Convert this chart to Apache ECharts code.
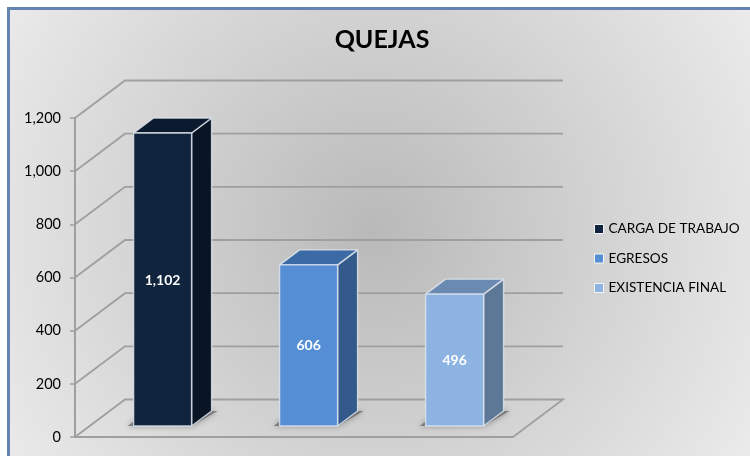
<!DOCTYPE html>
<html><head><meta charset="utf-8">
<style>html,body{margin:0;padding:0;background:#fff}#c{width:750px;height:456px}</style>
<script src="https://cdn.jsdelivr.net/npm/echarts@6/dist/echarts.min.js"></script>
</head><body><div id="c"></div>
<script>
const titleText = "QUEJAS";
const categories = ["CARGA DE TRABAJO", "EGRESOS", "EXISTENCIA FINAL"];
const values = [1102, 606, 496];
const yTicks = [0, 200, 400, 600, 800, 1000, 1200];
const frontColors = ["#10243e", "#558ed5", "#8db3e2"];
const topColors = ["#0b1a2e", "#3c6aa4", "#6b8ab2"];
const sideColors = ["#091525", "#345a8c", "#5c7896"];

const WALL_DX = 50, WALL_DY = -37.5;     // depth of the 3D box
const BAR_DX = 14.6, BAR_DY = -11;       // bar front inset from the floor edge
const DEPTH_DX = 20, DEPTH_DY = -15;     // bar's own depth
const BAR_W = 58;

function renderWall(params, api) {
  const v = api.value(1);
  const band = api.size([1, 0])[0];
  const l = api.coord([0, v]);
  const r = api.coord([categories.length - 1, v]);
  const x0 = l[0] - band / 2, x1 = r[0] + band / 2, y = l[1];
  const pts = [[x0, y], [x0 + WALL_DX, y + WALL_DY], [x1 + WALL_DX, y + WALL_DY]];
  if (v === 0) pts.push([x1, y]);
  return {
    type: "polyline",
    shape: { points: pts },
    style: { stroke: "#9f9f9f", lineWidth: 1.8, fill: null }
  };
}

function renderBar(params, api) {
  const i = api.value(0), v = api.value(1);
  const idx = categories.indexOf(params.seriesName);
  const top = api.coord([i, v]), base = api.coord([i, 0]);
  const cx = top[0] + BAR_DX;
  const x0 = cx - BAR_W / 2, x1 = cx + BAR_W / 2;
  const yT = top[1] + BAR_DY, yB = base[1] + BAR_DY;
  const edge = { stroke: "rgba(222,228,236,.85)", lineWidth: 1.4, lineJoin: "round" };
  const label = v.toLocaleString("en-US");
  return {
    type: "group",
    children: [
      { type: "polygon", shape: { points: [[x0 - 6, yB], [x1, yB], [x1 + DEPTH_DX + 6, yB + DEPTH_DY], [x0 + DEPTH_DX - 6, yB + DEPTH_DY]] },
        style: { fill: "rgba(80,80,80,.6)", shadowBlur: 6, shadowColor: "rgba(60,60,60,.8)" } },
      { type: "polygon", shape: { points: [[x1, yT], [x1 + DEPTH_DX, yT + DEPTH_DY], [x1 + DEPTH_DX, yB + DEPTH_DY], [x1, yB]] },
        style: Object.assign({ fill: sideColors[idx] }, edge) },
      { type: "polygon", shape: { points: [[x0, yT], [x0 + DEPTH_DX, yT + DEPTH_DY], [x1 + DEPTH_DX, yT + DEPTH_DY], [x1, yT]] },
        style: Object.assign({ fill: topColors[idx] }, edge) },
      { type: "rect", shape: { x: x0, y: yT, width: BAR_W, height: yB - yT },
        style: Object.assign({ fill: frontColors[idx] }, edge) },
      { type: "text", style: { text: label, x: cx, y: (yT + yB) / 2 + 0.5, align: "center", verticalAlign: "middle",
          fill: "#fff", font: "bold 14px Lato, Carlito, sans-serif" }, z2: 10 }
    ]
  };
}

const chart = echarts.init(document.getElementById("c"), null, { renderer: "canvas" });
const series = [{
  type: "custom", name: "wall", silent: true, clip: false, z: 1,
  data: yTicks.map(v => [0, v]), renderItem: renderWall
}].concat(categories.map((c, i) => ({
  type: "custom", name: c, clip: false, z: 3 + i,
  itemStyle: { color: frontColors[i] },
  encode: { x: 0, y: 1 },
  data: [[i, values[i]]], renderItem: renderBar
})));

chart.setOption({
  animation: false,
  graphic: [{
    type: "rect", z: -10, silent: true,
    shape: { x: 8.5, y: 8.5, width: 780, height: 480 },
    style: {
      fill: new echarts.graphic.RadialGradient(375, 232, 430, [
        { offset: 0, color: "#b9b9b9" },
        { offset: 1, color: "#eaeaea" }
      ], true),
      stroke: "#6584b4", lineWidth: 3
    }
  }],
  title: {
    text: titleText, left: 377, top: 22, textAlign: "center",
    textStyle: { fontFamily: "Lato, Carlito, sans-serif", fontWeight: "bold", fontSize: 25, color: "#000" }
  },
  legend: {
    left: 589, top: 217, orient: "vertical", icon: "rect", itemWidth: 9, itemHeight: 9, itemGap: 15.5,
    data: categories,
    itemStyle: { borderColor: "#f4f4f4", borderWidth: 1 },
    textStyle: { fontFamily: "Lato, Carlito, sans-serif", fontSize: 13.6, color: "#000" }
  },
  grid: { left: 75, right: 237, top: 118, bottom: 19 },
  xAxis: {
    type: "category", data: categories,
    axisLine: { show: true, lineStyle: { color: "#9f9f9f", width: 2 } },
    axisTick: { show: false }, axisLabel: { show: false }, splitLine: { show: false }
  },
  yAxis: {
    type: "value", min: 0, max: 1200, interval: 200,
    axisLine: { show: true, lineStyle: { color: "#9f9f9f", width: 2 } },
    axisTick: { show: true, length: 5, lineStyle: { color: "#9f9f9f", width: 1.5 } },
    axisLabel: { fontFamily: "Lato, Carlito, sans-serif", fontSize: 14.5, color: "#000", margin: 14,
      padding: [2, 0, 0, 0], formatter: v => v.toLocaleString("en-US") },
    splitLine: { show: false }
  },
  series
});
</script></body></html>
